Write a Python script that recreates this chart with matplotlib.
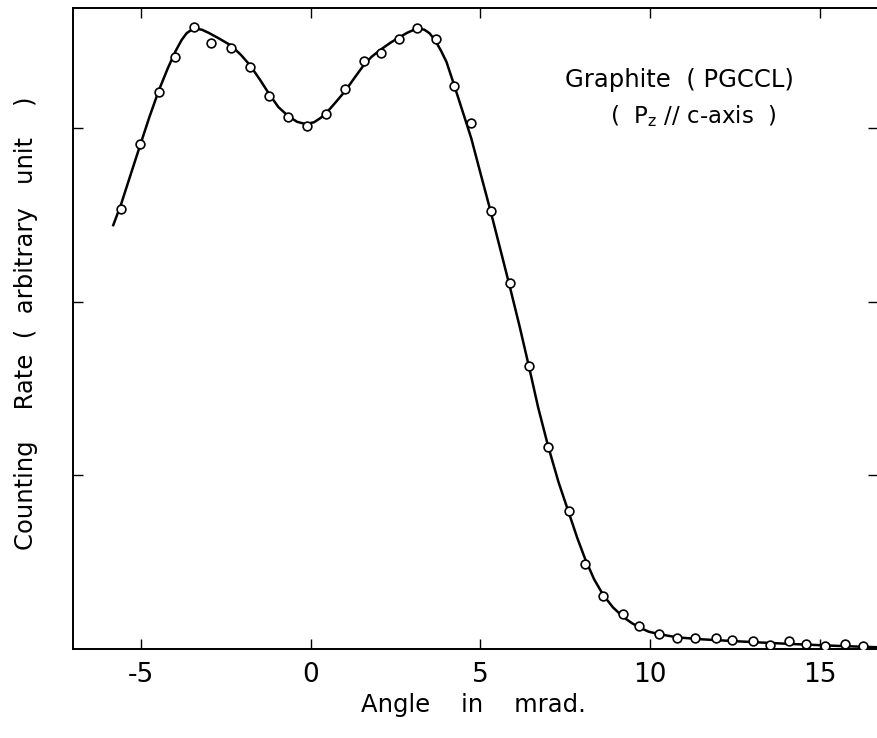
"""
plot.py
-------
Angular correlation curve for graphite (PGCCL), P_z parallel to the c-axis.
Open circles are the measured counting rates, the solid line is the
smoothed curve drawn through them.

Output:
    out.png
"""

import matplotlib

matplotlib.use("Agg")
import matplotlib.pyplot as plt

# ---------------------------------------------------------------------------
# Data (angle in mrad, counting rate in tick units)
# ---------------------------------------------------------------------------
angle = [
    -5.58, -5.01, -4.47, -3.98, -3.44, -2.94, -2.35, -1.79, -1.22, -0.66,
    -0.10, 0.46, 1.01, 1.56, 2.06, 2.60, 3.14, 3.68, 4.22, 4.73,
    5.30, 5.86, 6.43, 6.99, 7.61, 8.08, 8.62, 9.20, 9.67, 10.27,
    10.80, 11.32, 11.94, 12.42, 13.03, 13.54, 14.09, 14.60, 15.15, 15.72,
    16.25,
]
rate = [
    2.533, 2.906, 3.208, 3.410, 3.579, 3.489, 3.462, 3.351, 3.182, 3.063,
    3.013, 3.082, 3.226, 3.387, 3.430, 3.514, 3.575, 3.512, 3.243, 3.026,
    2.520, 2.105, 1.631, 1.161, 0.796, 0.488, 0.307, 0.201, 0.132, 0.088,
    0.065, 0.065, 0.063, 0.050, 0.046, 0.024, 0.044, 0.029, 0.017, 0.027,
    0.017,
]

# smooth curve
curve_angle = [
    -5.81, -5.58, -5.30, -5.01, -4.75, -4.47, -4.20, -3.98, -3.80, -3.65,
    -3.50, -3.35, -3.20, -3.00, -2.70, -2.35, -2.05, -1.79, -1.50, -1.22,
    -0.95, -0.66, -0.40, -0.15, 0.10, 0.30, 0.46, 0.75, 1.01, 1.30,
    1.56, 1.80, 2.06, 2.35, 2.60, 2.85, 3.05, 3.20, 3.35, 3.50,
    3.68, 3.85, 4.00, 4.22, 4.50, 4.73, 5.00, 5.30, 5.60, 5.86,
    6.15, 6.43, 6.70, 6.99, 7.30, 7.61, 7.85, 8.08, 8.35, 8.62,
    8.90, 9.20, 9.45, 9.67, 9.95, 10.27, 10.80, 11.50, 12.40, 13.50,
    14.50, 15.50, 16.70,
]
curve_rate = [
    2.440, 2.560, 2.730, 2.905, 3.060, 3.215, 3.345, 3.440, 3.505, 3.545,
    3.565, 3.570, 3.565, 3.547, 3.515, 3.475, 3.420, 3.362, 3.280, 3.195,
    3.120, 3.068, 3.035, 3.022, 3.032, 3.058, 3.085, 3.150, 3.210, 3.290,
    3.360, 3.410, 3.450, 3.490, 3.520, 3.548, 3.565, 3.570, 3.565, 3.545,
    3.500, 3.440, 3.380, 3.250, 3.080, 2.940, 2.740, 2.520, 2.290, 2.090,
    1.860, 1.625, 1.390, 1.170, 0.960, 0.780, 0.640, 0.520, 0.400, 0.310,
    0.240, 0.185, 0.150, 0.125, 0.100, 0.085, 0.067, 0.056, 0.046, 0.035,
    0.026, 0.018, 0.010,
]

x_ticks = [-5, 0, 5, 10, 15]
x_tick_labels = ["-5", "0", "5", "10", "15"]
y_ticks = [1, 2, 3]

FIG_W, FIG_H, DPI = 877, 738, 100


def px(x, y):
    """Pixel position (from top-left) to figure fraction."""
    return x / FIG_W, 1 - y / FIG_H


def main():
    plt.rcParams["font.family"] = ["DejaVu Sans"]
    plt.rcParams["mathtext.fontset"] = "dejavusans"

    fig = plt.figure(figsize=(FIG_W / DPI, FIG_H / DPI), dpi=DPI)
    # the right frame edge sits just past the picture, as in the scan
    left, top = px(72.5, 8)
    right, bottom = px(878.5, 649)
    ax = fig.add_axes([left, bottom, right - left, top - bottom])

    ax.plot(curve_angle, curve_rate, color="black", lw=1.8, zorder=2)
    ax.plot(angle, rate, ls="none", marker="o", ms=6.3, mfc="white",
            mec="black", mew=1.2, zorder=3)

    ax.set_xlim(-7.01, 16.72)
    ax.set_ylim(0, 3.69)

    for side in ax.spines.values():
        side.set_linewidth(1.4)

    ax.set_xticks(x_ticks)
    ax.set_xticklabels(x_tick_labels)
    ax.set_yticks(y_ticks)
    ax.set_yticklabels([])
    ax.tick_params(axis="both", direction="in", width=1.0, labelsize=19,
                   top=True, right=True)
    ax.tick_params(axis="x", which="major", length=7, pad=9)
    ax.tick_params(axis="y", which="major", length=7)

    ax.text(7.50, 3.235, "Graphite  ( PGCCL)", fontsize=17.5,
            ha="left", va="baseline")
    ax.text(8.82, 3.03, r"(  P$_{\mathrm{z}}$ // c-axis  )",
            fontsize=16.5, ha="left", va="baseline")

    fx, fy = px(473, 712)
    fig.text(fx, fy, "Angle    in    mrad.", fontsize=17.5,
             ha="center", va="baseline")
    fx, fy = px(26, 323)
    fig.text(fx, fy, "Counting    Rate  (  arbitrary   unit    )",
             fontsize=17.5, rotation=90, ha="center", va="center")

    fig.savefig("out.png", dpi=DPI)


if __name__ == "__main__":
    main()
